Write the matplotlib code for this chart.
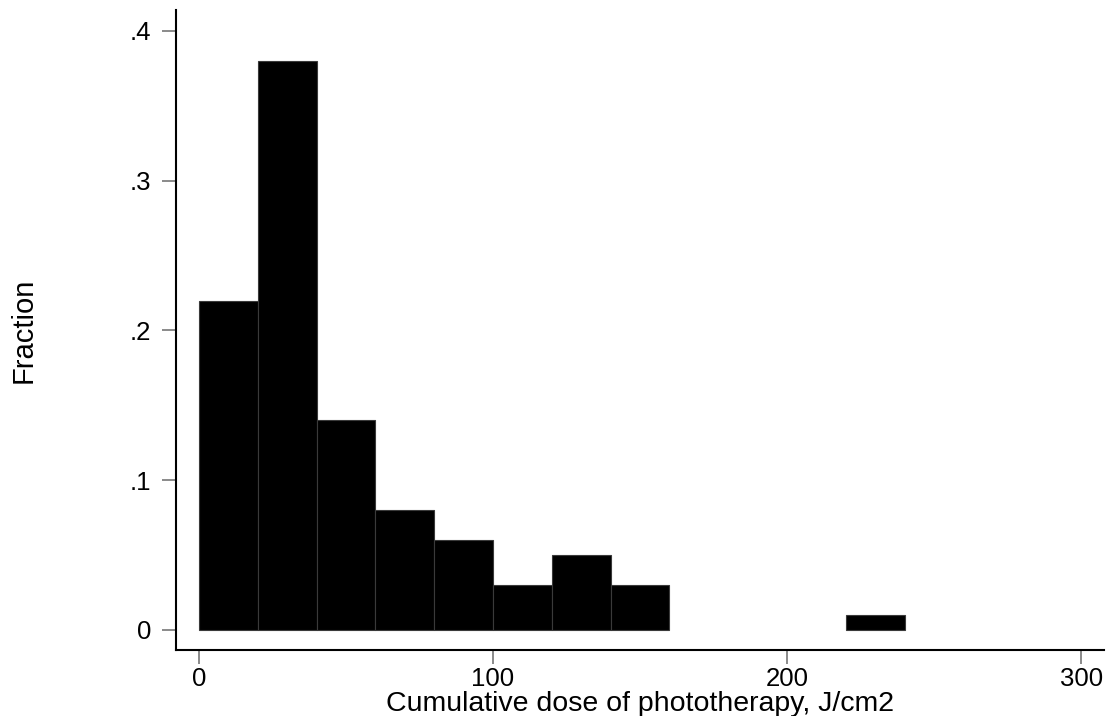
import matplotlib
matplotlib.use("Agg")
import matplotlib.pyplot as plt
import numpy as np

# histogram of cumulative phototherapy dose, bins of 20 J/cm2
bin_edges = [0, 20, 40, 60, 80, 100, 120, 140, 160, 180, 200, 220, 240]
fractions = [0.22, 0.38, 0.14, 0.08, 0.06, 0.03, 0.05, 0.03, 0.0, 0.0, 0.0, 0.01]
x_ticks = [0, 100, 200, 300]
y_ticks = [0, 0.1, 0.2, 0.3, 0.4]
y_tick_labels = ["0", ".1", ".2", ".3", ".4"]

plt.rcParams["font.family"] = ["Liberation Sans", "DejaVu Sans"]

fig = plt.figure(figsize=(11.09, 7.16), dpi=100)
ax = fig.add_axes([176 / 1109, 66 / 716, 928 / 1109, 640 / 716])

edges = np.array(bin_edges)
widths = np.diff(edges)
heights = np.array(fractions)
filled = heights > 0  # empty bins draw nothing
ax.bar(edges[:-1][filled], heights[filled], width=widths[filled], align="edge",
       color="black", edgecolor="#3a3a3a", linewidth=0.8)

ax.set_xlim(-7.8, 307.8)
ax.set_ylim(-0.01336, 0.414)

ax.set_xticks(x_ticks)
ax.set_yticks(y_ticks)
ax.set_yticklabels(y_tick_labels)

for side in ["top", "right"]:
    ax.spines[side].set_visible(False)
for side in ["left", "bottom"]:
    ax.spines[side].set_linewidth(1.5)

ax.tick_params(axis="both", length=10, width=1.2, color="#777777", labelsize=18.5)
ax.tick_params(axis="x", pad=2)
ax.tick_params(axis="y", pad=8)

ax.set_xlabel("Cumulative dose of phototherapy, J/cm2", fontsize=20.5, labelpad=0)
ax.set_ylabel("Fraction", fontsize=21, labelpad=66)

fig.savefig("out.png", dpi=100)
